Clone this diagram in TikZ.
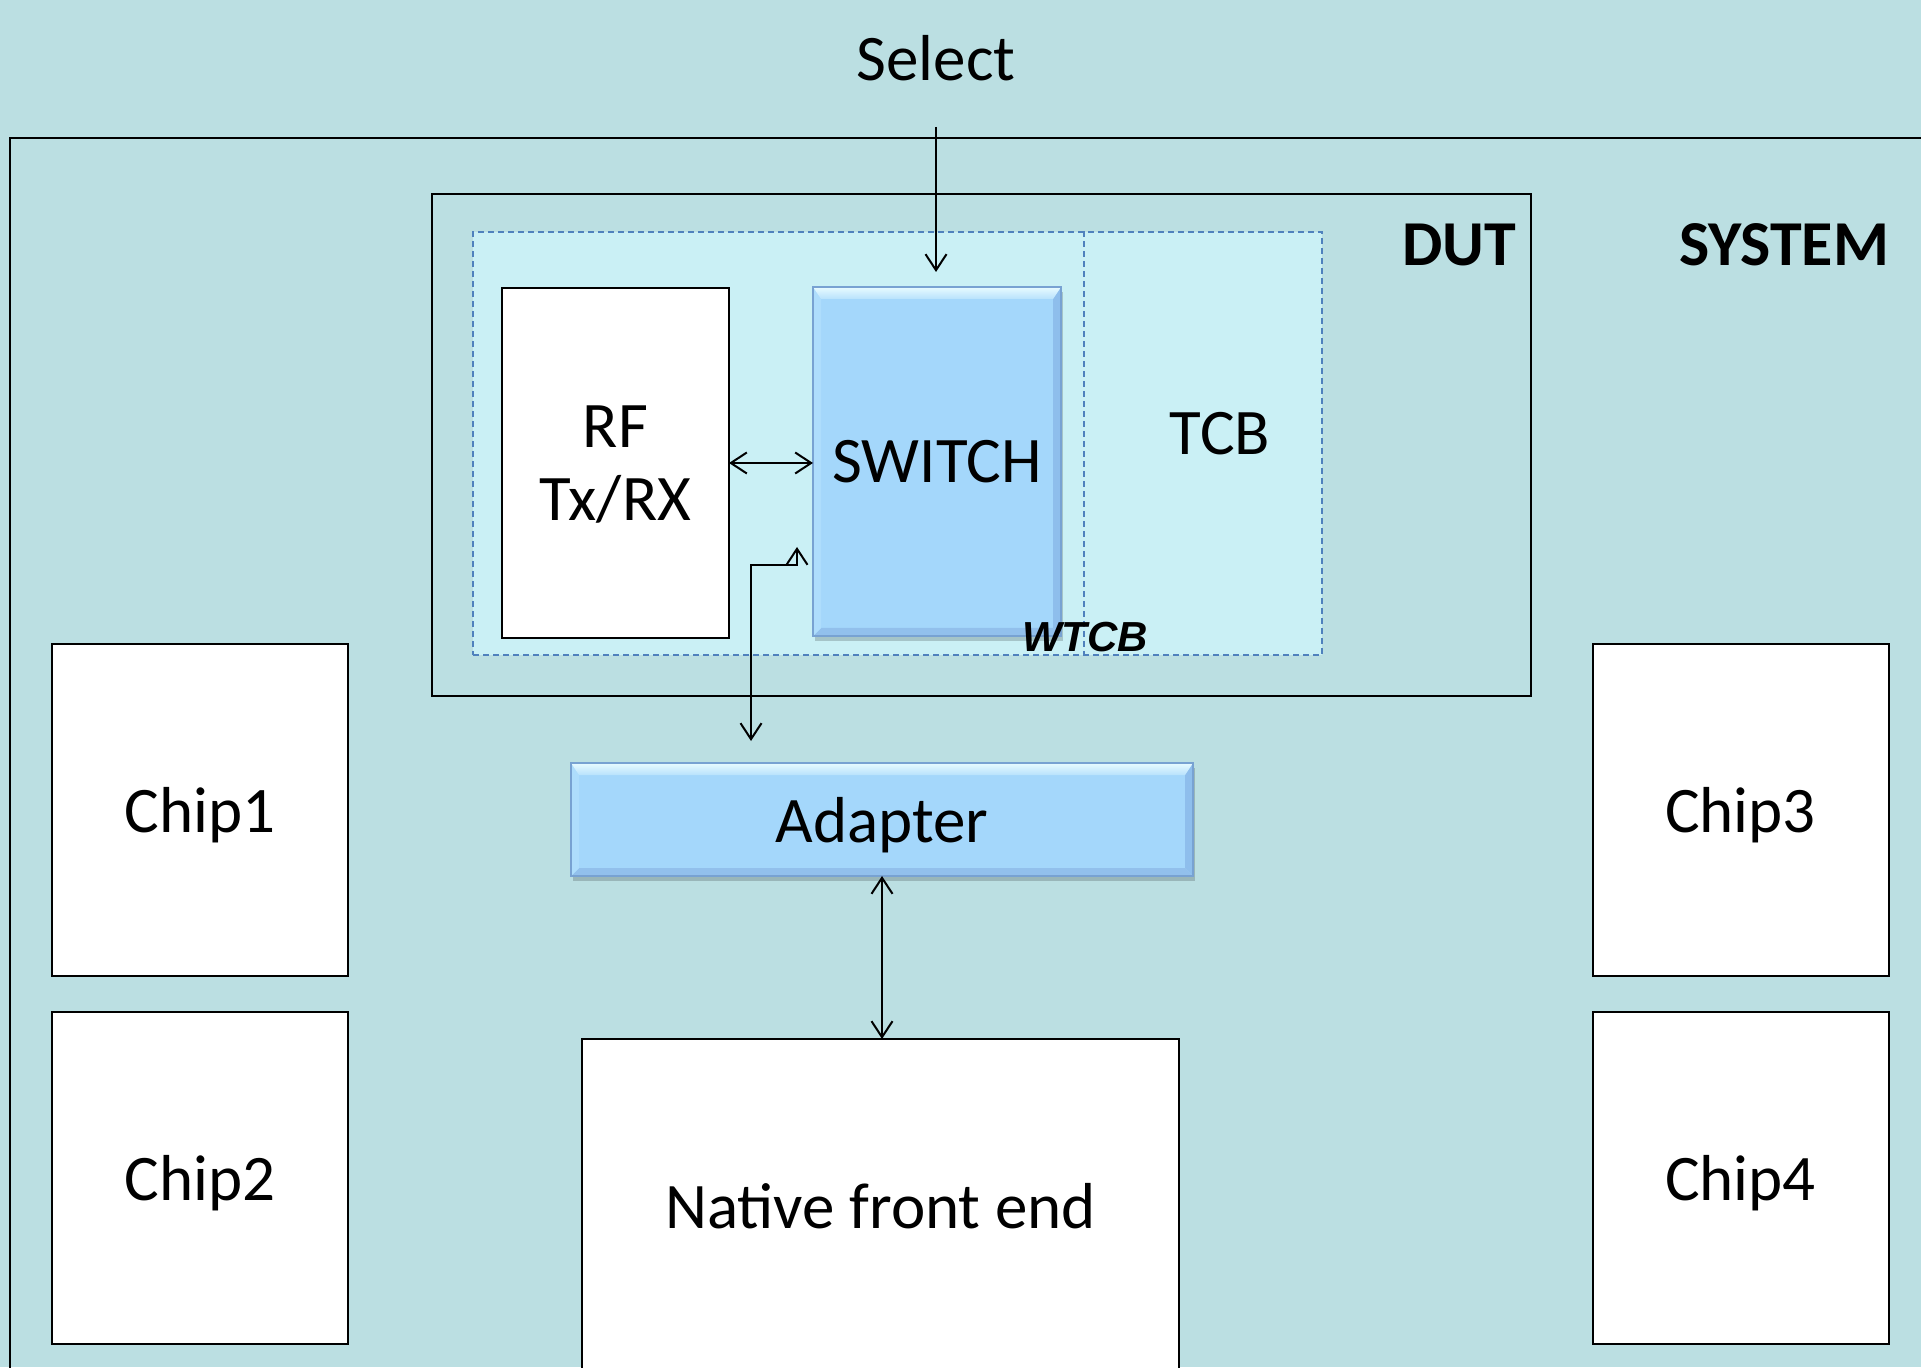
\documentclass[tikz,border=0pt]{standalone}
\usepackage{fontspec}
\setmainfont{Carlito}
\newfontfamily\wtcbfont{Liberation Sans}
\usepackage{tikz}
\usetikzlibrary{arrows.meta,calc,positioning,shadows}
\definecolor{sysbg}{RGB}{187,223,226}
\definecolor{wtcbfill}{RGB}{202,240,245}
\definecolor{dashblue}{RGB}{79,129,189}
\definecolor{bevfill}{RGB}{164,215,251}
\definecolor{bevtop}{RGB}{232,251,255}
\definecolor{bevleft}{RGB}{174,221,252}
\definecolor{bevright}{RGB}{142,190,236}
\definecolor{bevbottom}{RGB}{146,192,236}
\definecolor{bevedge}{RGB}{120,162,210}
\tikzset{
	box/.style={draw,line width=1pt,fill=white,inner sep=0pt,outer sep=0pt,text depth=0pt},
	frame/.style={draw,line width=1.1pt,inner sep=0pt,outer sep=0pt},
	dashbox/.style={draw=dashblue,line width=1pt,dash pattern=on 3pt off 2pt},
	tag/.style={font=\fontsize{32}{36}\selectfont\bfseries,inner sep=0pt},
	bevel/.style={draw=bevedge,line width=.6pt,fill=bevfill,inner sep=0pt,outer sep=0pt,text depth=0pt,
		drop shadow={shadow xshift=1pt,shadow yshift=-2.5pt,opacity=.18,fill=black},
		path picture={
			\fill[bevright] (path picture bounding box.north east) -- (path picture bounding box.south east)
				-- ([shift={(-4pt,4pt)}]path picture bounding box.south east) -- ([shift={(-4pt,-6pt)}]path picture bounding box.north east) -- cycle;
			\fill[bevbottom] (path picture bounding box.south west) -- (path picture bounding box.south east)
				-- ([shift={(-4pt,4pt)}]path picture bounding box.south east) -- ([shift={(4pt,4pt)}]path picture bounding box.south west) -- cycle;
			\fill[bevleft] (path picture bounding box.north west) -- (path picture bounding box.south west)
				-- ([shift={(4pt,4pt)}]path picture bounding box.south west) -- ([shift={(4pt,-6pt)}]path picture bounding box.north west) -- cycle;
			\shade[top color=bevtop,bottom color=bevfill!70!bevtop] (path picture bounding box.north west) -- (path picture bounding box.north east)
				-- ([shift={(-4pt,-6pt)}]path picture bounding box.north east) -- ([shift={(4pt,-6pt)}]path picture bounding box.north west) -- cycle;
		}}
}

\begin{document}
\begin{tikzpicture}[x=0.5pt,y=0.5pt,line width=1pt,>={Straight Barb[length=8pt,width=10.5pt]},
	every node/.style={font=\fontsize{32.5}{36.5}\selectfont}]
  \fill[sysbg] (0,0) rectangle (1921,1367);
  \useasboundingbox (0,0) rectangle (1921,1367);
  \clip (0,0) rectangle (1921,1367);
  % system and dut
  \node[frame,minimum width=975pt,minimum height=634.5pt] (SYS) at (985,594.5) {};
  \node[frame,minimum width=549.5pt,minimum height=251pt] (DUT) at (981.5,922) {};
  \node[dashbox,fill=wtcbfill,minimum width=424.5pt,minimum height=211.5pt,inner sep=0pt] (WTCB) at (897.5,923.5) {};
  \coordinate (tcbcut) at (1084,0);
  \draw[dashbox] (WTCB.north -| tcbcut) -- (WTCB.south -| tcbcut);
  \node[tag,anchor=base east] (DUTlbl) at ([shift={(-7pt,-36pt)}]DUT.north east) {DUT};
  \node[tag,anchor=base] (SYSlbl) at (1784,1101) {SYSTEM};
  \node[anchor=base,inner sep=0pt] (TCB) at (1220,912) {TCB};
  % blocks
  \node[box,align=center,minimum width=113.5pt,minimum height=175pt] (RF) at (615.5,904) {RF\\Tx/RX};
  \node[bevel,minimum width=124pt,minimum height=174.5pt] (SW) at (937,905.5) {SWITCH};
  \node[anchor=base,inner sep=0pt,font=\wtcbfont\bfseries\itshape\fontsize{21}{25}\selectfont] (WTCBlbl) at (1085,715) {WTCB};
  \node[bevel,minimum width=311pt,minimum height=56.5pt] (AD) at (882,547.5) {Adapter};
  \node[box,minimum width=298.5pt,minimum height=167pt] (NFE) at (880.5,161) {Native front end};
  \node[box,minimum width=148pt,minimum height=166pt] (Chip1) at (200,557) {Chip1};
  \node[box,minimum width=148pt,minimum height=166pt,below=18pt of Chip1] (Chip2) {Chip2};
  \node[box,minimum width=148pt,minimum height=166pt] (Chip3) at (1740.5,557) {Chip3};
  \node[box,minimum width=148pt,minimum height=166pt,below=18pt of Chip3] (Chip4) {Chip4};
  \node[anchor=base,inner sep=0pt] (Select) at (936,1286) {Select};
  % wires
  \coordinate[below=23pt of Select.base] (sel0);
  \coordinate[above=7.5pt of SW.north] (sel1);
  \draw[->] (sel0) -- (sel0 |- sel1);
  \draw[<->] (RF.east) -- (RF.east -| SW.west);
  \coordinate (ad0) at (751,626);
  \coordinate (sw0) at (797,820);
  \draw[<->] (ad0) |- ([yshift=-9pt]sw0) -- (sw0);
  \draw[<->] (AD.south) -- (AD.south |- NFE.north);
\end{tikzpicture}
\end{document}
